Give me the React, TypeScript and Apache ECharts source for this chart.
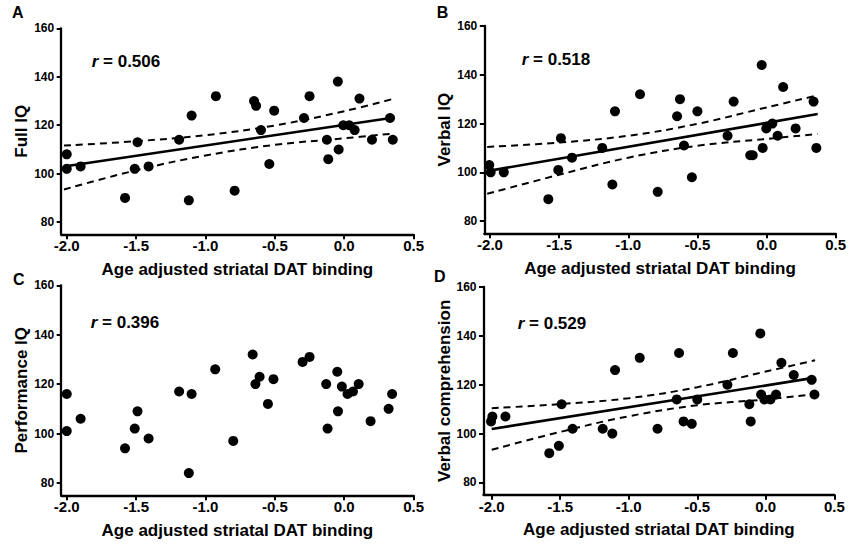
import React, { useEffect, useRef } from "react";
import * as echarts from "echarts";

const FONT = "'Liberation Sans', Arial, Helvetica, sans-serif";

// Tick labels
const xTicks = [-2.0, -1.5, -1.0, -0.5, 0.0, 0.5];
const yTicks = [80, 100, 120, 140, 160];

// Texts
const xTitle = "Age adjusted striatal DAT binding";
const panelLetters = ["A", "B", "C", "D"];
const yTitles = ["Full IQ", "Verbal IQ", "Performance IQ", "Verbal comprehension"];
const rValues = ["0.506", "0.518", "0.396", "0.529"];

// Panel A: Full IQ
const aX = [-2.0, -2.0, -1.9, -1.58, -1.51, -1.49, -1.41, -1.19, -1.1, -1.12, -0.925, -0.79, -0.65, -0.635, -0.6, -0.505, -0.54, -0.29, -0.25, -0.125, -0.115, -0.046, -0.04, -0.007, 0.036, 0.075, 0.11, 0.2, 0.33, 0.35];
const aY = [108, 102, 103, 90, 102, 113, 103, 114, 124, 89, 132, 93, 130, 128, 118, 126, 104, 123, 132, 114, 106, 138, 110, 120, 120, 118, 131, 114, 123, 114];
const aFitX = [-2.02, 0.36];
const aFitY = [103, 123.2];
const aBandX = [-2.02, -1.5, -1.0, -0.5, 0.0, 0.36];
const aUpper = [111.6, 113.4, 115.9, 119.9, 125.8, 131.0];
const aLower = [93.5, 101.4, 107.5, 111.9, 114.6, 116.6];

// Panel B: Verbal IQ
const bX = [-2.005, -1.995, -1.9, -1.578, -1.506, -1.487, -1.407, -1.188, -1.096, -1.115, -0.915, -0.787, -0.647, -0.626, -0.597, -0.5, -0.54, -0.282, -0.238, -0.118, -0.1, -0.035, -0.028, -0.002, 0.042, 0.08, 0.12, 0.21, 0.34, 0.36];
const bY = [103, 100, 100, 89, 101, 114, 106, 110, 125, 95, 132, 92, 123, 130, 111, 125, 98, 115, 129, 107, 107, 144, 110, 118, 120, 115, 135, 118, 129, 110];
const bFitX = [-2.02, 0.37];
const bFitY = [100.5, 123.9];
const bBandX = [-2.02, -1.5, -1.0, -0.5, 0.0, 0.37];
const bUpper = [110.4, 112.2, 115.0, 119.9, 126.6, 131.6];
const bLower = [91.2, 99.0, 106.0, 110.9, 113.7, 115.7];

// Panel C: Performance IQ
const cX = [-2.0, -2.0, -1.9, -1.58, -1.51, -1.49, -1.41, -1.19, -1.1, -1.12, -0.93, -0.8, -0.66, -0.64, -0.61, -0.51, -0.55, -0.3, -0.25, -0.13, -0.12, -0.05, -0.045, -0.017, 0.024, 0.063, 0.104, 0.19, 0.32, 0.345];
const cY = [101, 116, 106, 94, 102, 109, 98, 117, 116, 84, 126, 97, 132, 120, 123, 122, 112, 129, 131, 120, 102, 125, 109, 119, 116, 117, 120, 105, 110, 116];

// Panel D: Verbal comprehension
const dX = [-2.005, -1.995, -1.9, -1.58, -1.51, -1.49, -1.41, -1.19, -1.1, -1.12, -0.92, -0.79, -0.65, -0.633, -0.6, -0.5, -0.54, -0.28, -0.24, -0.12, -0.11, -0.04, -0.034, -0.01, 0.034, 0.075, 0.114, 0.204, 0.335, 0.355];
const dY = [105, 107, 107, 92, 95, 112, 102, 102, 126, 100, 131, 102, 114, 133, 105, 114, 104, 120, 133, 112, 105, 141, 116, 114, 114, 116, 129, 124, 122, 116];
const dFitX = [-2.0, 0.36];
const dFitY = [101.9, 122.9];
const dBandX = [-2.0, -1.5, -1.0, -0.5, 0.0, 0.36];
const dUpper = [110.4, 112.1, 114.5, 119.0, 125.4, 130.0];
const dLower = [93.4, 100.7, 107.1, 111.6, 114.0, 116.1];

const pair = (xs: number[], ys: number[]) => xs.map((x, i) => [x, ys[i]]);

export default function App() {
  const ref = useRef<HTMLDivElement>(null);
  useEffect(() => {
    if (!ref.current) return;
    const chart = echarts.init(ref.current, undefined, { renderer: "svg" });

    const grids = [
      { left: 61.2, top: 28.3, width: 352.4, height: 206 },
      { left: 484.3, top: 26, width: 351.4, height: 207.3 },
      { left: 61.2, top: 285.3, width: 352.4, height: 210 },
      { left: 483.5, top: 287, width: 350.8, height: 207.7 },
    ];
    const xMins = [-2.04, -2.041, -2.04, -2.06];
    const yNameGaps = [25.5, 25.5, 25, 24];

    const xAxes = grids.map((_, i) => ({
      type: "value",
      gridIndex: i,
      min: xMins[i],
      max: 0.5,
      name: xTitle,
      nameLocation: "middle",
      nameGap: 26.5,
      nameTextStyle: { fontFamily: FONT, fontWeight: "bold", fontSize: 17, color: "#000" },
      axisLine: { show: true, onZero: false, lineStyle: { color: "#000", width: 2.3 } },
      axisTick: { show: true, length: 5, lineStyle: { color: "#000", width: 2 }, customValues: xTicks },
      axisLabel: {
        customValues: xTicks,
        formatter: (v: number) => v.toFixed(1),
        fontFamily: FONT,
        fontWeight: "bold",
        fontSize: 15,
        color: "#000",
        margin: 4,
      },
      splitLine: { show: false },
    }));

    const yAxes = grids.map((_, i) => ({
      type: "value",
      gridIndex: i,
      min: 75,
      max: 160,
      name: yTitles[i],
      nameLocation: "middle",
      nameRotate: 90,
      nameGap: yNameGaps[i],
      nameTextStyle: { fontFamily: FONT, fontWeight: "bold", fontSize: 17, color: "#000" },
      axisLine: { show: true, onZero: false, lineStyle: { color: "#000", width: 2.3 } },
      axisTick: { show: true, length: 4.5, lineStyle: { color: "#000", width: 2 }, customValues: yTicks },
      axisLabel: {
        customValues: yTicks,
        fontFamily: FONT,
        fontWeight: "bold",
        fontSize: 12,
        color: "#000",
        margin: 7,
      },
      splitLine: { show: false },
    }));

    const scatter = (xs: number[], ys: number[], i: number) => ({
      type: "scatter",
      xAxisIndex: i,
      yAxisIndex: i,
      symbolSize: 10,
      itemStyle: { color: "#000", opacity: 1 },
      data: pair(xs, ys),
      z: 5,
    });
    const fit = (xs: number[], ys: number[], i: number) => ({
      type: "line",
      xAxisIndex: i,
      yAxisIndex: i,
      symbol: "none",
      lineStyle: { color: "#000", width: 2.6 },
      data: pair(xs, ys),
      z: 3,
    });
    const band = (xs: number[], ys: number[], i: number) => ({
      type: "line",
      xAxisIndex: i,
      yAxisIndex: i,
      symbol: "none",
      smooth: 0.4,
      lineStyle: { color: "#000", width: 2, type: [7, 5] },
      data: pair(xs, ys),
      z: 3,
    });

    const series = [
      band(aBandX, aUpper, 0), band(aBandX, aLower, 0), fit(aFitX, aFitY, 0), scatter(aX, aY, 0),
      band(bBandX, bUpper, 1), band(bBandX, bLower, 1), fit(bFitX, bFitY, 1), scatter(bX, bY, 1),
      scatter(cX, cY, 2),
      band(dBandX, dUpper, 3), band(dBandX, dLower, 3), fit(dFitX, dFitY, 3), scatter(dX, dY, 3),
    ];

    const letterPos = [[12, 12.5], [436.7, 12.5], [13, 279.5], [434, 276]];
    const rPos = [[91.7, 61.6], [521.7, 59.5], [90.7, 322], [517.7, 323.2]];

    const graphics: any[] = [];
    panelLetters.forEach((l, i) => {
      graphics.push({
        type: "text",
        x: letterPos[i][0],
        y: letterPos[i][1],
        style: { text: l, fontFamily: FONT, fontWeight: "bold", fontSize: 16, fill: "#000", verticalAlign: "middle", align: "left" },
      });
    });
    rValues.forEach((r, i) => {
      graphics.push({
        type: "text",
        x: rPos[i][0],
        y: rPos[i][1],
        style: {
          text: "{i|r}{b| = " + r + "}",
          verticalAlign: "middle",
          align: "left",
          rich: {
            i: { fontFamily: FONT, fontWeight: "bold", fontStyle: "italic", fontSize: 17, fill: "#000" },
            b: { fontFamily: FONT, fontWeight: "bold", fontSize: 17, fill: "#000" },
          },
        },
      });
    });

    chart.setOption({
      animation: false,
      backgroundColor: "#fff",
      grid: grids,
      xAxis: xAxes,
      yAxis: yAxes,
      series,
      graphic: graphics,
    } as any);

    return () => chart.dispose();
  }, []);

  return (
    <div
      ref={ref}
      style={{ position: "absolute", left: 0, top: 0, width: 850, height: 544, background: "#fff" }}
    />
  );
}
